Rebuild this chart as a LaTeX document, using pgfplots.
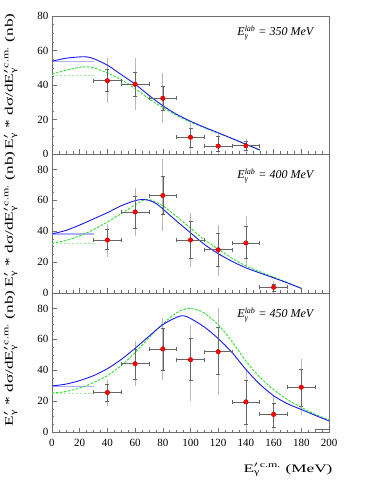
\documentclass[border=0pt]{standalone}
\usepackage{fontspec}
\setmainfont{Liberation Serif}
\usepackage{graphicx}
\usepackage{pgfplots}
\usepackage{pgfplotstable}
\pgfplotsset{compat=1.18}

\definecolor{curveblue}{RGB}{25,25,240}
\definecolor{curvegreen}{RGB}{40,225,40}
\definecolor{paleblue}{RGB}{175,175,255}
\definecolor{palegreen}{RGB}{165,240,165}
\definecolor{framegray}{RGB}{110,110,110}

\newcommand{\sm}[1]{\mbox{\fontsize{8}{9}\selectfont #1}}

% x y ex  stat+ stat-  total+ total-
\pgfplotstableread{
x   y    ex sp   sm   tp   tm
40  42.5 10 6.6  6.4  13.0 12.7
60  40.4 10 7.0  7.2  15.1 14.9
80  32.3 10 7.2  6.8  14.5 14.5
100 9.7  10 5.2  6.0  8.1  9.3
120 4.6  10 5.8  3.0  7.4  4.6
140 4.8  10 2.3  2.5  3.7  3.5
}\dataA

\pgfplotstableread{
x   y    ex sp   sm   tp   tm
40  34.3 10 6.7  6.3  10.4 11.1
60  52.5 10 10.1 10.4 15.6 15.4
80  63.1 10 12.5 12.4 23.4 23.2
100 34.3 10 12.1 11.7 17.5 17.6
120 28.0 10 10.8 10.9 16.2 16.9
140 32.4 10 10.8 9.7  17.3 15.5
160 3.7  10 1.7  2.7  3.9  3.7
}\dataB

\pgfplotstableread{
x   y    ex sp   sm   tp   tm
40  25.6 10 5.4  5.4  8.2  8.7
60  44.2 10 9.1  9.9  14.5 14.1
80  53.8 10 13.4 14.1 19.7 20.0
100 46.8 10 14.1 13.6 22.8 26.6
120 52.0 10 16.1 14.9 28.0 27.9
140 19.5 10 14.0 14.5 19.7 18.2
160 11.4 10 7.1  8.4  12.6 11.4
180 29.0 10 11.8 12.1 18.3 17.9
}\dataC

\tikzset{lab/.style={anchor=north east, font=\fontsize{12}{14}\selectfont}}

\pgfplotsset{
  panel/.style={
    width=277pt, scale only axis,
    xmin=0, xmax=200,
    xtick={0,20,...,200}, minor x tick num=3,
    ytick={0,20,...,80}, minor y tick num=3,
    tick align=inside, xtick pos=bottom, ytick pos=left,
    major tick length=4.5pt, minor tick length=2.5pt,
    axis line style={framegray, line width=0.6pt},
    tick style={framegray, line width=0.5pt},
    tick label style={font=\fontsize{11}{13}\selectfont},
    /pgf/number format/assume math mode=true,
    xticklabel style={yshift=-4pt},
    ylabel={\scalebox{1.5}[1]{E$'_{\sm{γ}}$ * dσ/dE$'^{\,\sm{c.m.}}_{\sm{γ}}$ (nb)}},
    ylabel style={at={(rel axis cs:-0.112,1.043)}, anchor=south east,
      font=\fontsize{11.5}{14}\selectfont},
  },
  outerr/.style={forget plot, only marks, mark=none,
    error bars/.cd, y dir=both, y explicit, error mark=none,
    error bar style={black!28, line width=0.7pt}},
  innerr/.style={only marks, mark=*, mark size=2.2pt,
    mark options={draw=red, fill=red},
    error bars/.cd, x dir=both, x explicit, y dir=both, y explicit,
    error bar style={black!60, line width=0.6pt},
    error mark options={rotate=90, black!60, mark size=2pt, line width=0.6pt}},
  bluecurve/.style={curveblue, line width=0.9pt, smooth},
  greencurve/.style={curvegreen, line width=0.9pt, smooth, dash pattern=on 2.5pt off 1.5pt},
  paleb/.style={paleblue, line width=0.9pt},
  paleg/.style={palegreen, line width=0.8pt, dash pattern=on 2.5pt off 1.5pt},
}

\begin{document}
\begin{tikzpicture}

% ---- 350 MeV
\begin{axis}[panel, at={(0,278pt)}, anchor=south west, height=138pt,
  ymin=0, ymax=80, xticklabels={}]
\addplot[outerr] table[x=x, y=y, y error plus=tp, y error minus=tm] {\dataA};
\addplot[paleb] coordinates {(0,53.4) (30,53.4)};
\addplot[paleg] coordinates {(0,45.8) (30,45.8)};
\addplot[greencurve] coordinates {(0,46.3) (10,48.5) (20,50.3) (25,50.5) (30,50) (40,47) (50,43) (60,38) (70,32) (80,27) (90,22.3) (100,18.5) (110,15.2) (120,12.1) (130,8.9) (140,5.6) (150,2.3)};
\addplot[bluecurve] coordinates {(0,53.8) (10,55.5) (20,56.3) (25,56.3) (30,55.3) (40,51.5) (50,46) (60,40.5) (70,34) (80,28) (90,23) (100,19) (110,15.5) (120,12.3) (130,9) (140,5.7) (150,2.3)};
\addplot[innerr] table[x=x, y=y, x error=ex, y error plus=sp, y error minus=sm] {\dataA};
\node[lab] at (rel axis cs:0.96,0.957) {\textit{E}$^{\sm{\itshape lab}}_{\sm{\itshape γ}}$\textit{ = 350 MeV}};
\end{axis}

% ---- 400 MeV
\begin{axis}[panel, at={(0,139pt)}, anchor=south west, height=139pt,
  ymin=0, ymax=90, xticklabels={}]
\addplot[outerr] table[x=x, y=y, y error plus=tp, y error minus=tm] {\dataB};
\addplot[paleb, line width=2pt] coordinates {(0,38.3) (30,38.3)};
\addplot[paleg] coordinates {(0,32.2) (30,32.2)};
\addplot[greencurve] coordinates {(0,32.3) (10,34) (20,37) (30,41) (40,46) (50,51.5) (60,57) (67,60.5) (72,60) (80,56.5) (90,49.5) (100,42) (110,34.5) (120,28.5) (130,22.5) (140,17.5) (150,13.8) (160,10.3) (170,6.8) (180,3)};
\addplot[bluecurve] coordinates {(0,38.3) (10,40.5) (20,44) (30,48) (40,52) (50,56.5) (60,59.8) (65,60.5) (70,60) (75,58) (80,54.5) (90,46.5) (100,39) (110,31.5) (120,25.5) (130,20.5) (140,16.3) (150,13) (160,9.8) (170,6.5) (180,3)};
\addplot[innerr] table[x=x, y=y, x error=ex, y error plus=sp, y error minus=sm] {\dataB};
\node[lab] at (rel axis cs:0.96,0.92) {\textit{E}$^{\sm{\itshape lab}}_{\sm{\itshape γ}}$\textit{ = 400 MeV}};
\end{axis}

% ---- 450 MeV
\begin{axis}[panel, at={(0,0)}, anchor=south west, height=139pt,
  ymin=0, ymax=90,
  xlabel={\scalebox{1.5}[1]{E$'^{\,\sm{c.m.}}_{\sm{γ}}$ (MeV)}},
  xlabel style={at={(rel axis cs:1,0)}, anchor=base east, yshift=-40pt, xshift=7pt,
    font=\fontsize{11.5}{14}\selectfont}]
\addplot[outerr] table[x=x, y=y, y error plus=tp, y error minus=tm] {\dataC};
\addplot[paleb] coordinates {(0,29.3) (30,29.3)};
\addplot[paleg] coordinates {(0,25) (30,25)};
\addplot[greencurve] coordinates {(0,25.2) (10,26.2) (20,28.5) (30,32) (40,36.5) (50,43) (60,51.5) (70,61) (80,70) (90,77.2) (98,80) (105,79) (110,77) (120,69.5) (130,58.5) (140,46) (150,35.5) (160,27.5) (170,21) (180,16) (190,11.5) (200,7.8)};
\addplot[bluecurve] coordinates {(0,29.8) (10,31) (20,33.3) (30,36.5) (40,41) (50,47) (60,54.2) (70,62) (80,69.5) (90,74.3) (95,75.3) (100,73.5) (110,68) (120,60.5) (130,51.5) (140,40.5) (150,31) (160,23.5) (170,18.3) (180,14.6) (190,10.8) (200,7.2)};
\addplot[innerr] table[x=x, y=y, x error=ex, y error plus=sp, y error minus=sm] {\dataC};
\addplot[black!60, line width=0.6pt] coordinates {(190,1.5) (200,1.5)};
\node[lab] at (rel axis cs:0.96,0.92) {\textit{E}$^{\sm{\itshape lab}}_{\sm{\itshape γ}}$\textit{ = 450 MeV}};
\end{axis}

\pgfresetboundingbox
\path (-52pt,-52pt) rectangle (322pt,432pt);
\end{tikzpicture}
\end{document}
